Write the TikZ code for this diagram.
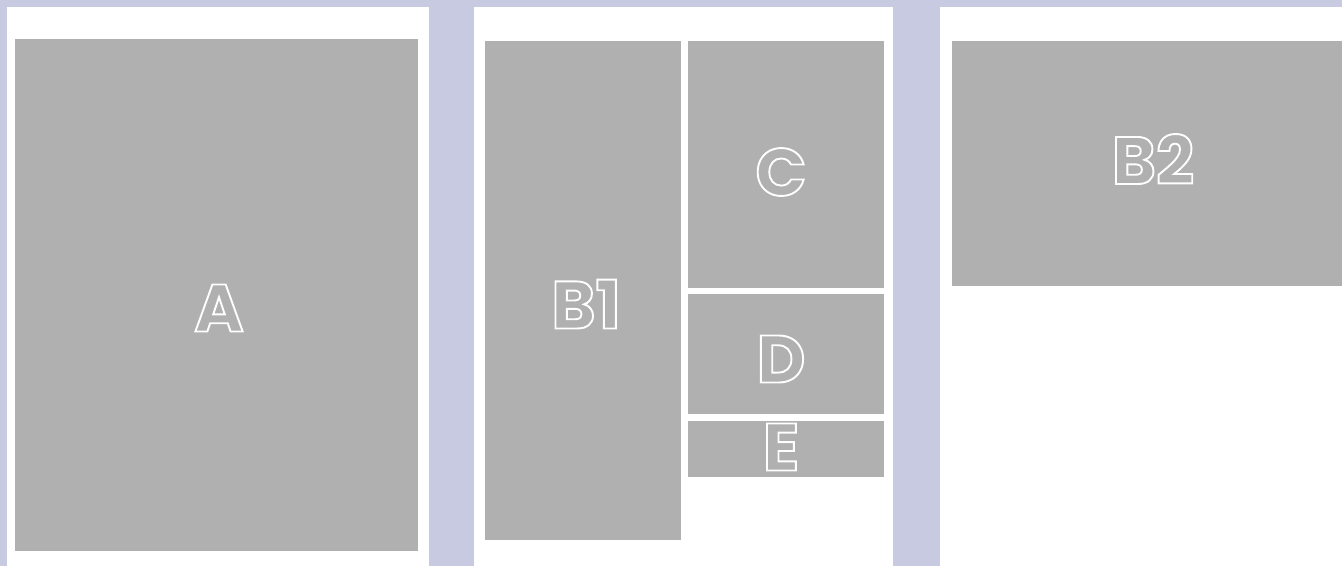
\documentclass[tikz,border=0pt]{standalone}
\usepackage{fontspec}
\usepackage{tikz}
\usetikzlibrary{positioning}
\newfontfamily\lblfont{Poppins}
\definecolor{lavande}{HTML}{C8CAE2}
\definecolor{grisbloc}{HTML}{B0B0B0}
% contour blanc des lettres
\newcommand{\hollow}[1]{\special{pdf:literal direct 1 Tr 1.9 w}#1\special{pdf:literal direct 0 Tr}}

\begin{document}
\begin{tikzpicture}[
    x=1pt, y=-1pt,
    page/.style={fill=white, draw=none},
    bloc/.style={fill=grisbloc, draw=none, anchor=north west, inner sep=0pt},
    lettre/.style={font=\lblfont\bfseries\fontsize{67}{67}\selectfont, text=white, inner sep=0pt}
  ]
    \useasboundingbox (0,0) rectangle (1342,566);
    \fill[lavande] (0,0) rectangle (1342,566);
    % pages
    \fill[page] (7,7) rectangle (429,566);
    \fill[page] (474,7) rectangle (893,566);
    \fill[page] (940,7) rectangle (1342,566);
    % page 1
    \node[bloc, minimum width=403pt, minimum height=512pt] (a) at (15,39) {};
    \node[lettre] (la) at (219,308) {\hollow{A}};
    % page 2
    \node[bloc, minimum width=196pt, minimum height=499pt] (b1) at (485,41) {};
    \node[bloc, minimum width=196pt, minimum height=247pt, right=6pt of b1.north east, anchor=north west] (c) {};
    \node[bloc, minimum width=196pt, minimum height=120pt, below=5pt of c.south west, anchor=north west] (d) {};
    \node[bloc, minimum width=196pt, minimum height=56pt, below=7pt of d.south west, anchor=north west] (e) {};
    \node[lettre] (lb1) at (586,304) {\hollow{B1}};
    \node[lettre] (lc) at (781,172) {\hollow{C}};
    \node[lettre] (ld) at (781,359) {\hollow{D}};
    \node[lettre] (le) at (781,447) {\hollow{E}};
    % page 3
    \node[bloc, minimum width=390pt, minimum height=245pt] (b2) at (952,41) {};
    \node[lettre] (lb2) at (1153,159) {\hollow{B2}};
\end{tikzpicture}
\end{document}
